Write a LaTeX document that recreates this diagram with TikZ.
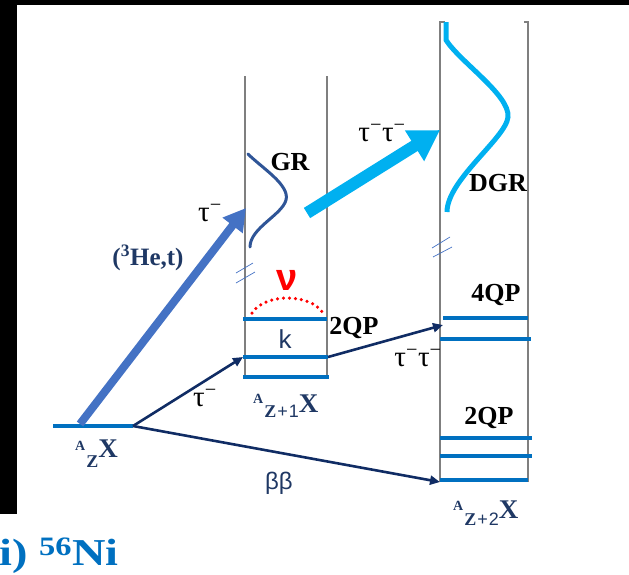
\documentclass[tikz,border=0pt]{standalone}
\usepackage{fontspec}
\setmainfont{Liberation Serif}
\newfontfamily\sansf{Liberation Sans}
\usetikzlibrary{arrows.meta}
\definecolor{lvl}{HTML}{0070C0}
\definecolor{navy}{HTML}{1F3864}
\definecolor{arrnavy}{HTML}{102C64}
\definecolor{hebl}{HTML}{4472C4}
\definecolor{grc}{HTML}{2F5597}
\definecolor{cyanc}{HTML}{00B0F0}
\definecolor{colg}{HTML}{7F7F7F}
\newcommand{\nucl}[3]{\raisebox{#2}{\fontsize{14}{14}\selectfont\bfseries A}\hspace{1pt}\raisebox{-#3}{\fontsize{18}{18}\selectfont #1}{\fontsize{27}{27}\selectfont\bfseries X}}
\newcommand{\taum}{τ\textsuperscript{−}}
\begin{document}
\begin{tikzpicture}[x=1pt,y=-1pt,
  level/.style={draw=lvl, line width=3.8pt},
  column/.style={draw=colg, line width=1.3pt},
  thinarr/.style={draw=arrnavy, line width=2.6pt, -{Triangle[length=10pt,width=9pt]}},
  brk/.style={draw=hebl, line width=0.7pt},
  lab/.style={inner sep=0pt, font=\fontsize{26}{26}\selectfont\bfseries},
  taulab/.style={inner sep=0pt, font=\fontsize{29}{29}\selectfont},
  nuclab/.style={inner sep=0pt, anchor=base west, text=navy},
]
\useasboundingbox (0,0) rectangle (629,574);
\fill[black] (0,0) rectangle (629,5);
\fill[black] (0,0) rectangle (17,514);

% columns
\draw[column] (245,76) -- (245,378);
\draw[column] (327,76) -- (327,378);
\draw[column] (445,22) -- (440,22) -- (440,482);
\draw[column] (524,22) -- (528,22) -- (528,482);

% levels
\coordinate (g0) at (53,426);
\coordinate (g1) at (133,426);
\draw[level] (g0) -- (g1);
\draw[level] (243,319) -- (327,319);
\coordinate (m2l) at (243,357);
\coordinate (m2r) at (328,357);
\draw[level] (m2l) -- (m2r);
\draw[level] (243,377) -- (329,377);
\draw[level] (443,318) -- (528,318);
\draw[level] (440,339) -- (531,339);
\draw[level] (440,438) -- (532,438);
\draw[level] (440,456) -- (532,456);
\draw[level] (440,480) -- (528,480);

% break marks
\draw[brk] (236,273) -- (253,263);
\draw[brk] (236,283) -- (255,272);
\draw[brk] (432,248) -- (450,237);
\draw[brk] (433,257) -- (452,247);

% GR and DGR curves
\draw[grc, line width=3pt, line cap=round] (248,154) .. controls (262,168) and (290,185) .. (286,200) .. controls (282,215) and (250,228) .. (250,247);
\draw[cyanc, line width=5pt] (446,22) -- (446,40) .. controls (460,62) and (510,95) .. (508,117) .. controls (506,138) and (447,180) .. (447,212);

% red dotted arc
\draw[red, line width=3.5pt, dash pattern=on 0pt off 6pt, line cap=round] (252,313) .. controls (265,293) and (310,293) .. (323,313);

% big arrows
\coordinate (he0) at (80,424);
\coordinate (he1) at (246,208);
\draw[hebl, line width=8pt, -{Triangle[length=22pt,width=24pt]}] (he0) -- (he1);
\coordinate (cy0) at (307,213);
\coordinate (cy1) at (440,130);
\draw[cyanc, line width=12pt, -{Triangle[length=30pt,width=34pt]}] (cy0) -- (cy1);

% thin arrows
\coordinate (z2b) at (440,482);
\coordinate (z2u) at (443,325);
\draw[thinarr] (g1) -- (m2l);
\draw[thinarr] (g1) -- (z2b);
\draw[thinarr] (m2r) -- (z2u);

% labels
\node[taulab] (t1) at (210,213) {\taum};
\node[lab, text=navy, font=\fontsize{25}{25}\selectfont\bfseries] (he) at (148,258) {(\textsuperscript{3}He,t)};
\node[lab] (gr) at (290,162) {GR};
\node[inner sep=0pt, text=red, font=\fontsize{38}{38}\selectfont\sansf\bfseries] (nu) at (287,280) {ν};
\node[inner sep=0pt, text=navy, font=\fontsize{26}{26}\selectfont\sansf] (k) at (285,339) {k};
\node[lab] (qp2a) at (354,328) {2QP};
\node[taulab] (t2) at (418,358) {\taum\taum};
\node[taulab] (t3) at (205,398) {\taum};
\node[inner sep=0pt, text=navy, font=\fontsize{24}{24}\selectfont\sansf] (bb) at (279,483) {ββ};
\node[taulab] (t4) at (382,133) {\taum\taum};
\node[lab] (dgr) at (498,183) {DGR};
\node[lab] (qp4) at (496,295) {4QP};
\node[lab] (qp2b) at (489,418) {2QP};

\node[nuclab] (nz) at (75,457) {\nucl{\bfseries Z}{7pt}{10pt}};
\node[nuclab] (nz1) at (253,412) {\nucl{{\bfseries Z}\hspace{1pt}{\sansf +}\hspace{1pt}{\sansf 1}}{9pt}{5pt}};
\node[nuclab] (nz2) at (453,518) {\nucl{{\bfseries Z}\hspace{1pt}{\sansf +}\hspace{1pt}{\sansf 2}}{8pt}{7pt}};

\node[inner sep=0pt, anchor=base west, text=lvl, font=\fontsize{38}{38}\selectfont\bfseries] (title) at (-1,565) {\scalebox{1.22}[1]{i) \textsuperscript{56}Ni}};
\end{tikzpicture}
\end{document}
